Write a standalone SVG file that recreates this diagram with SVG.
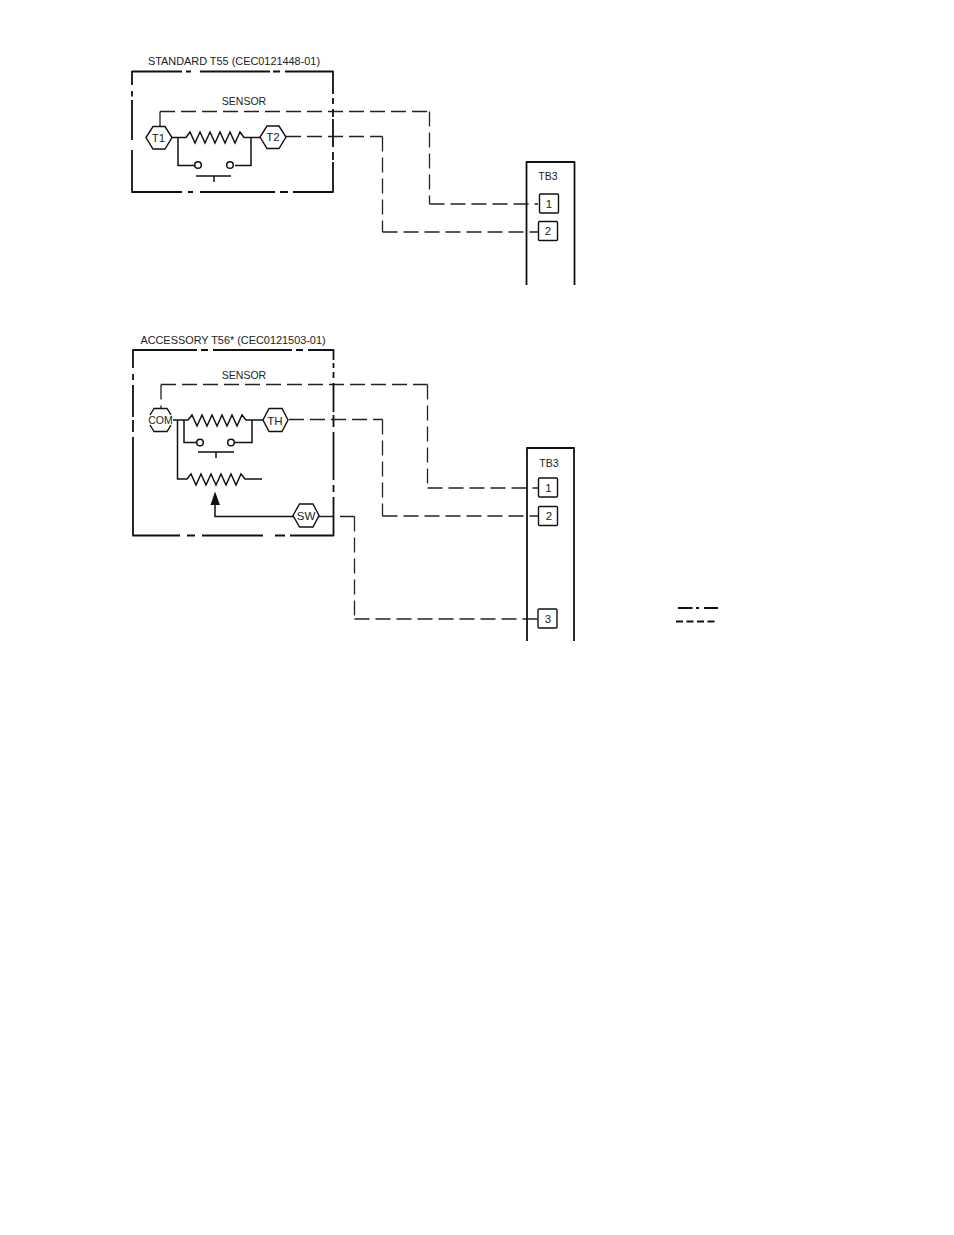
<svg xmlns="http://www.w3.org/2000/svg" width="954" height="1235" viewBox="0 0 954 1235">
<style>
text{font-family:"Liberation Sans",Arial,sans-serif;font-size:10.5px;fill:#222;text-anchor:middle}
.t{font-size:10.9px}
.k{font-size:11.5px}
.l{fill:none;stroke:#111;stroke-width:1.5}
.b{fill:none;stroke:#111;stroke-width:1.8;stroke-linejoin:round}
.g{fill:none;stroke:#111;stroke-width:2}
.d{fill:none;stroke:#222;stroke-width:1.3;stroke-dasharray:15 6}
.n{fill:#fff;stroke:#111;stroke-width:1.4}
.o{fill:none;stroke:#111;stroke-width:1.4}
.c{fill:#fff;stroke:#111;stroke-width:1.5}
</style>
<rect width="954" height="1235" fill="#fff"/>
<g id="connectors">
<path class="d" d="M160 111.500V126M160 111.500H429.500M429.500 111.500V204M429.500 204H538"/>
<path class="d" d="M286 136.500H382.500M382.500 136.500V232M382.500 232H538"/>
<path class="d" d="M161 384.500V408M161 384.500H427.500M427.500 384.500V488M427.500 488H538"/>
<path class="d" d="M289 419.500H382.500M382.500 419.500V516M382.500 516H538"/>
<path class="d" d="M319 516.500H354.500M354.500 516.500V619M354.500 619H538"/>
<path class="l" d="M172 137.500H186L190 132 195 143 200 132 205 143 210 132 215 143 220 132 225 143 230 132 235 143 240 132 244 137.500H260"/>
<path class="l" d="M178 137.500V165.500H195M235 165.500H251V137.500"/>
<path class="l" d="M196 176H231M214 176V182"/>
<path class="l" d="M173 420H188L192 415 197 426 202 415 207 426 212 415 217 426 222 415 227 426 232 415 237 426 242 415 246 420H263"/>
<path class="l" d="M184 420V442.500H198M233 442.500H252V420"/>
<path class="l" d="M198 452H234M216 452V458"/>
<path class="l" d="M177.500 420V479H187L191 474 196 485 201 474 206 485 211 474 216 485 221 474 226 485 231 474 236 485 241 474 245 479H262"/>
<path class="l" d="M215 504V516.500H293"/>
<path fill="#111" d="M215 491.500L220 505H210.500Z"/>
<path class="g" d="M678 608H692.500M696 608H699M704 608H718"/>
<path class="g" d="M676 621.500H718" stroke-dasharray="7 3.500"/>
</g>
<g id="standard-box"><path class="b" d="M132 85V71.500H182M186 71.500H191M200 71.500H270M273 71.500H280M285 71.500H333V94M333 98V104M333 109V117M333 119V147M333 152V160M333 162V192H293M288 192H280M275 192H200M193 192H188M182 192H132V150M132 140V100M132 96.500V91"/><text class="t" x="234" y="65">STANDARD T55 (CEC0121448-01)</text><text x="244" y="105">SENSOR</text></g>
<g id="t1"><path class="n" d="M153 126.500H165L172 137.500 165 149H153L146 137.500Z"/><text class="k" x="158.500" y="141.500">T1</text></g>
<g id="t2"><path class="n" d="M267 126H279L286 137 279 148.500H267L260 137Z"/><text class="k" x="273" y="141">T2</text></g>
<g id="switch1"><circle class="c" cx="198" cy="165" r="3.300"/><circle class="c" cx="230" cy="165" r="3.300"/></g>
<g id="tb3-top"><path class="b" d="M526.500 285V162H574.500V285"/><text x="548" y="180">TB3</text></g>
<g id="tb1-1"><rect class="n" x="539.500" y="194" width="19" height="19" rx="1"/><text class="k" x="549" y="207.500">1</text></g>
<g id="tb1-2"><rect class="n" x="538.500" y="221.500" width="19" height="19" rx="1"/><text class="k" x="548" y="235">2</text></g>
<g id="accessory-box"><path class="b" d="M133 368V350H197M201 350H208M213 350H292M296 350H303M308 350H333.500V360M333.500 363V368M333.500 372V378M333.500 383V412M333.500 415V427M333.500 432V480M333.500 485V492M333.500 497V535.500H290M285 535.500H275M263 535.500H202M195 535.500H187M180 535.500H133V437M133 432V420M133 417V385M133 380V374"/><text class="t" x="233" y="344">ACCESSORY T56* (CEC0121503-01)</text><text x="244" y="379">SENSOR</text></g>
<g id="com"><path class="o" d="M150 415L154 408.500H167L171 415M150 425L154 431.500H167L171 425"/><text x="160.500" y="424">COM</text></g>
<g id="th"><path class="n" d="M269 408.500H282L288 420 282 431.500H269L263 420Z"/><text class="k" x="275" y="424.500">TH</text></g>
<g id="sw"><path class="n" d="M299.500 504H313L319 515.500 313 527H299.500L293 515.500Z"/><text class="k" x="306" y="520">SW</text></g>
<g id="switch2"><circle class="c" cx="200" cy="442.500" r="3.300"/><circle class="c" cx="231" cy="442.500" r="3.300"/></g>
<g id="tb3-bottom"><path class="b" d="M527 641V448H574V641"/><text x="549" y="467">TB3</text></g>
<g id="tb2-1"><rect class="n" x="538.500" y="478" width="19" height="19" rx="1"/><text class="k" x="548.500" y="491.500">1</text></g>
<g id="tb2-2"><rect class="n" x="538.500" y="506.500" width="19" height="19" rx="1"/><text class="k" x="549" y="520">2</text></g>
<g id="tb2-3"><rect class="n" x="538" y="609" width="19" height="19" rx="1"/><text class="k" x="548" y="622.500">3</text></g>
</svg>
